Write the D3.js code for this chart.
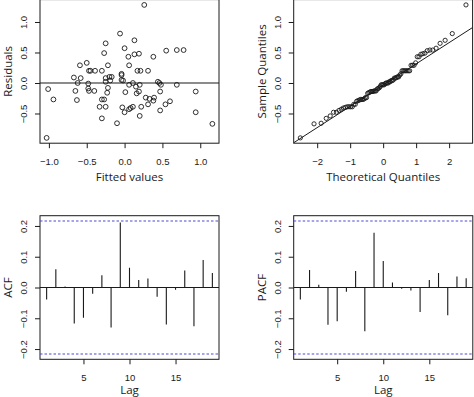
<!DOCTYPE html>
<html>
<head>
<meta charset="utf-8">
<script src="https://cdn.jsdelivr.net/npm/d3@7"></script>
<style>
  body { margin: 0; background: #fff; }
  svg { display: block; font-family: "Open Sans", sans-serif; }
  .tick line { stroke: #1a1a1a; }
  .tick text { fill: #1a1a1a; font-size: 9.5px; }
  .title { fill: #1a1a1a; font-size: 11.5px; }
</style>
</head>
<body>
<div id="chart"></div>
<script>
// residuals vs fitted
var fitted = [-1.03, -1.01, -0.94, -0.67, -0.65, -0.63, -0.62, -0.59, -0.58, -0.50,
  -0.48, -0.48, -0.47, -0.47, -0.45, -0.40, -0.39, -0.33, -0.30, -0.30,
  -0.30, -0.27, -0.27, -0.25, -0.25, -0.25, -0.25, -0.23, -0.22, -0.22,
  -0.20, -0.19, -0.17, -0.10, -0.06, -0.04, -0.04, -0.04, -0.02, -0.03,
  0.00, 0.00, 0.01, 0.05, 0.06, 0.06, 0.06, 0.08, 0.11, 0.11,
  0.13, 0.13, 0.15, 0.16, 0.17, 0.19, 0.19, 0.20, 0.21, 0.20,
  0.22, 0.26, 0.28, 0.31, 0.31, 0.33, 0.38, 0.38, 0.39, 0.44,
  0.46, 0.47, 0.47, 0.48, 0.55, 0.54, 0.60, 0.69, 0.69, 0.78,
  0.94, 0.94, 1.16];
var residuals = [-0.90, -0.10, -0.27, 0.09, -0.13, -0.28, 0.00, 0.29, 0.08, 0.33,
  -0.01, -0.09, -0.13, 0.20, 0.20, -0.13, 0.20, -0.39, -0.27, 0.20,
  -0.58, 0.49, -0.27, 0.65, 0.08, -0.39, 0.02, -0.16, -0.08, 0.29,
  0.10, 0.04, 0.10, -0.66, 0.81, 0.15, 0.13, 0.05, 0.04, -0.40,
  -0.48, 0.57, -0.15, 0.43, 0.29, -0.03, -0.43, -0.41, -0.39, 0.00,
  0.70, 0.47, -0.06, -0.17, 0.20, 0.48, -0.14, -0.54, 0.20, -0.03,
  -0.39, 1.28, -0.24, 0.20, -0.35, -0.26, 0.43, -0.29, -0.24, 0.02,
  0.00, -0.14, -0.45, -0.03, 0.53, -0.35, -0.30, -0.03, 0.54, 0.54,
  -0.14, -0.48, -0.67];

// correlograms
var lags = [1, 2, 3, 4, 5, 6, 7, 8, 9, 10, 11, 12, 13, 14, 15, 16, 17, 18, 19];
var acfValues = [-0.039, 0.059, 0.003, -0.117, -0.098, -0.020, 0.040, -0.130, 0.211, 0.064,
  0.024, 0.029, -0.030, -0.120, -0.007, 0.055, -0.126, 0.089, 0.047];
var pacfValues = [-0.039, 0.057, 0.009, -0.121, -0.110, -0.014, 0.054, -0.142, 0.178, 0.086,
  0.016, -0.004, -0.010, -0.080, 0.024, 0.047, -0.090, 0.036, 0.030];
var ciLimit = 0.216;

// tick labels
var fittedTicks = [-1, -0.5, 0, 0.5, 1];
var residTicks = [-0.5, 0, 0.5, 1];
var theoTicks = [-2, -1, 0, 1, 2];
var corrTicks = [-0.2, -0.1, 0, 0.1, 0.2];
var lagTicks = [5, 10, 15];

var svgWidth = 474, svgHeight = 397;
var ink = "#1a1a1a";

var svg = d3.select("#chart").append("svg")
  .attr("width", svgWidth)
  .attr("height", svgHeight);

// R pads ranges by 4% each side
function padded(ext) {
  var d = (ext[1] - ext[0]) * 0.04;
  return [ext[0] - d, ext[1] + d];
}

// inverse normal cdf (Acklam) for the theoretical quantiles
function qnorm(p) {
  var a = [-39.69683028665376, 220.9460984245205, -275.9285104469687, 138.3577518672690, -30.66479806614716, 2.506628277459239];
  var b = [-54.47609879822406, 161.5858368580409, -155.6989798598866, 66.80131188771972, -13.28068155288572];
  var c = [-0.007784894002430293, -0.3223964580411365, -2.400758277161838, -2.549732539343734, 4.374664141464968, 2.938163982698783];
  var d = [0.007784695709041462, 0.3224671290700398, 2.445134137142996, 3.754408661907416];
  var q, r;
  if (p < 0.02425) {
    q = Math.sqrt(-2 * Math.log(p));
    return (((((c[0]*q+c[1])*q+c[2])*q+c[3])*q+c[4])*q+c[5]) / ((((d[0]*q+d[1])*q+d[2])*q+d[3])*q+1);
  } else if (p > 1 - 0.02425) {
    q = Math.sqrt(-2 * Math.log(1 - p));
    return -(((((c[0]*q+c[1])*q+c[2])*q+c[3])*q+c[4])*q+c[5]) / ((((d[0]*q+d[1])*q+d[2])*q+d[3])*q+1);
  }
  q = p - 0.5; r = q * q;
  return (((((a[0]*r+a[1])*r+a[2])*r+a[3])*r+a[4])*r+a[5])*q / (((((b[0]*r+b[1])*r+b[2])*r+b[3])*r+b[4])*r+1);
}

var clipId = 0;
// draws box, axes and titles; returns a clipped group for marks
function panel(x, y, opts) {
  var x0 = x.range()[0], x1 = x.range()[1];
  var y0 = y.range()[0], y1 = y.range()[1];

  var xAxis = svg.append("g")
    .attr("transform", `translate(0, ${y0})`)
    .call(d3.axisBottom(x).tickValues(opts.xTicks).tickSize(5).tickFormat(opts.xFormat));
  xAxis.select(".domain").remove();
  xAxis.selectAll("text").attr("y", 22).attr("dy", null);

  var yAxis = svg.append("g")
    .attr("transform", `translate(${x0}, 0)`)
    .call(d3.axisLeft(y).tickValues(opts.yTicks).tickSize(5).tickFormat(opts.yFormat));
  yAxis.select(".domain").remove();
  yAxis.selectAll("text")
    .attr("x", 0).attr("y", -13).attr("dy", null)
    .attr("text-anchor", "middle")
    .attr("transform", "rotate(-90)");

  svg.append("rect")
    .attr("x", x0).attr("y", y1)
    .attr("width", x1 - x0).attr("height", y0 - y1)
    .attr("fill", "none").attr("stroke", ink).attr("stroke-width", 1);

  svg.append("text")
    .attr("class", "title")
    .attr("x", (x0 + x1) / 2).attr("y", y0 + opts.xTitleGap)
    .attr("text-anchor", "middle")
    .text(opts.xTitle);

  svg.append("text")
    .attr("class", "title")
    .attr("transform", `translate(${x0 - 28}, ${(y0 + y1) / 2}) rotate(-90)`)
    .attr("text-anchor", "middle")
    .text(opts.yTitle);

  var id = "clip" + (clipId++);
  svg.append("clipPath").attr("id", id)
    .append("rect")
    .attr("x", x0).attr("y", y1)
    .attr("width", x1 - x0).attr("height", y0 - y1);
  return svg.append("g").attr("clip-path", `url(#${id})`);
}

var fmt1 = d3.format(".1f");
var fmt0 = d3.format("d");

// ---- residuals vs fitted ----
var residDomain = padded(d3.extent(residuals));
var xFit = d3.scaleLinear().domain(padded(d3.extent(fitted))).range([40, 219]);
var yRes = d3.scaleLinear().domain(residDomain).range([143.2, -0.4]);

var g1 = panel(xFit, yRes, {
  xTicks: fittedTicks, yTicks: residTicks, xFormat: fmt1, yFormat: fmt1,
  xTitle: "Fitted values", yTitle: "Residuals", xTitleGap: 38
});
g1.append("line")
  .attr("x1", 40).attr("x2", 219)
  .attr("y1", yRes(0)).attr("y2", yRes(0))
  .attr("stroke", ink).attr("stroke-width", 1.1);
g1.selectAll("circle")
  .data(fitted.map((f, i) => [f, residuals[i]]))
  .enter()
  .append("circle")
  .attr("cx", d => xFit(d[0]))
  .attr("cy", d => yRes(d[1]))
  .attr("r", 2.4)
  .attr("fill", "none").attr("stroke", ink).attr("stroke-width", 0.9);

// ---- normal Q-Q ----
var n = residuals.length;
var sorted = residuals.slice().sort(d3.ascending);
var theo = sorted.map((r, i) => qnorm((i + 0.5) / n));
var xQ = d3.scaleLinear().domain(padded(d3.extent(theo))).range([293.7, 472.6]);
var yQ = d3.scaleLinear().domain(residDomain).range([143.2, -0.4]);

var g2 = panel(xQ, yQ, {
  xTicks: theoTicks, yTicks: residTicks, xFormat: fmt0, yFormat: fmt1,
  xTitle: "Theoretical Quantiles", yTitle: "Sample Quantiles", xTitleGap: 38
});
var q1 = d3.quantile(sorted, 0.25), q3 = d3.quantile(sorted, 0.75);
var slope = (q3 - q1) / (qnorm(0.75) - qnorm(0.25));
var icpt = q1 - slope * qnorm(0.25);
var xd = xQ.domain();
g2.append("line")
  .attr("x1", xQ(xd[0])).attr("x2", xQ(xd[1]))
  .attr("y1", yQ(icpt + slope * xd[0])).attr("y2", yQ(icpt + slope * xd[1]))
  .attr("stroke", ink).attr("stroke-width", 1);
g2.selectAll("circle")
  .data(sorted)
  .enter()
  .append("circle")
  .attr("cx", (d, i) => xQ(theo[i]))
  .attr("cy", d => yQ(d))
  .attr("r", 2.1)
  .attr("fill", "none").attr("stroke", ink).attr("stroke-width", 0.9);

// ---- ACF / PACF ----
function correlogram(values, xRange, yTitle) {
  var x = d3.scaleLinear().domain(padded(d3.extent(lags))).range(xRange);
  var y = d3.scaleLinear().domain(padded([-ciLimit, ciLimit])).range([359.3, 215.7]);
  var g = panel(x, y, {
    xTicks: lagTicks, yTicks: corrTicks, xFormat: fmt0, yFormat: fmt1,
    xTitle: "Lag", yTitle: yTitle, xTitleGap: 35
  });
  g.append("line")
    .attr("x1", xRange[0]).attr("x2", xRange[1])
    .attr("y1", y(0)).attr("y2", y(0))
    .attr("stroke", ink).attr("stroke-width", 1);
  g.selectAll(".ci")
    .data([ciLimit, -ciLimit])
    .enter()
    .append("line")
    .attr("class", "ci")
    .attr("x1", xRange[0]).attr("x2", xRange[1])
    .attr("y1", d => y(d)).attr("y2", d => y(d))
    .attr("stroke", "#4b4bd6").attr("stroke-width", 1.1)
    .attr("stroke-dasharray", "2.5,2");
  g.selectAll(".spike")
    .data(values)
    .enter()
    .append("line")
    .attr("class", "spike")
    .attr("x1", (d, i) => x(lags[i])).attr("x2", (d, i) => x(lags[i]))
    .attr("y1", y(0)).attr("y2", d => y(d))
    .attr("stroke", ink).attr("stroke-width", 1.1);
}

correlogram(acfValues, [40, 219], "ACF");
correlogram(pacfValues, [293.7, 472.8], "PACF");
</script>
</body>
</html>
